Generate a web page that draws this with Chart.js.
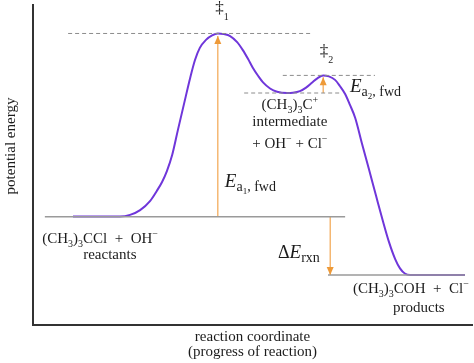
<!DOCTYPE html>
<html>
<head>
<meta charset="utf-8">
<script src="https://cdn.jsdelivr.net/npm/chart.js@4.4.0/dist/chart.umd.min.js"></script>
<style>
  html, body { margin: 0; padding: 0; background: #fff; }
</style>
</head>
<body>
<canvas id="energy-chart" width="474" height="363"></canvas>
<script>
// Energy profile (x: reaction coordinate 0-100, y: potential energy 0-100)
const pathX = [9.1, 19.8, 22.1, 24.4, 26.7, 28.2, 29.4, 30.5, 31.7, 33.0,
               34.4, 35.8, 36.9, 38.0, 39.4, 40.8, 42.1, 43.5, 44.9, 46.5,
               47.8, 49.0, 50.1, 51.3, 52.4, 54.0, 55.6, 57.9, 59.2, 60.8,
               62.2, 63.6, 64.7, 66.1, 67.4, 68.8, 69.9, 71.1, 72.2, 73.4,
               74.9, 76.5, 78.1, 79.7, 81.1, 82.5, 83.6, 84.7, 85.9, 98.4];
const pathY = [33.9, 33.9, 34.4, 35.9, 38.8, 41.9, 44.7, 48.1, 53.1, 60.9,
               69.1, 77.2, 82.8, 86.6, 89.1, 90.5, 91.1, 90.9, 90.3, 88.4,
               85.9, 83.1, 80.3, 77.8, 75.8, 73.9, 72.9, 72.5, 72.6, 73.1,
               74.2, 75.8, 77.0, 78.0, 77.7, 76.6, 74.7, 72.2, 68.8, 64.7,
               56.9, 48.8, 40.6, 32.5, 25.9, 20.6, 17.7, 16.1, 15.6, 15.6];

// energy levels
const reactantE = 33.8;
const productE = 15.6;
const ts1E = 91.1;
const intermediateE = 72.5;
const ts2E = 78.0;

// horizontal extent of the level lines
const reactantSpan = [2.7, 71.1];
const productSpan = [67.2, 98.4];
const ts1Span = [8.0, 63.6];
const ts2Span = [56.9, 77.9];
const intermediateSpan = [48.1, 69.9];

// arrows: x position, from energy, to energy
const ea1Arrow = [42.1, 33.8, 90.3];
const ea2Arrow = [66.1, 72.5, 77.4];
const rxnArrow = [67.7, 33.8, 15.6];

const serif = "'Liberation Serif', 'Times New Roman', serif";
const purple = "#6f36da";
const orange = "#f2a650";
const ink = "#1c1c1c";

// run styles for the rich text labels
const runStyles = {
  n:   { size: 15, dy: 0 },
  sub: { size: 10, dy: 4 },
  sup: { size: 10, dy: -6 },
  E:   { size: 19, dy: 0, italic: true },
  Es:  { size: 14, dy: 4 },
  Ess: { size: 9, dy: 7 },
  D:   { size: 18, dy: 0 },
  dg:  { size: 17, dy: 0 },
  ds:  { size: 10, dy: 7 }
};

// text notes placed in data units (left or centre, baseline)
const notes = [
  { x: 41.5, y: 97.5, align: "left", runs: [["‡", "dg"], ["1", "ds"]] },
  { x: 65.3, y: 84.1, align: "left", runs: [["‡", "dg"], ["2", "ds"]] },
  { x: 43.7, y: 43.1, align: "left", runs: [["E", "E"], ["a", "Es"], ["1", "Ess"], [", fwd", "Es"]] },
  { x: 72.2, y: 72.8, align: "left", runs: [["E", "E"], ["a", "Es"], ["2", "Ess"], [", fwd", "Es"]] },
  { x: 55.8, y: 20.9, align: "left", runs: [["Δ", "D"], ["E", "E"], ["rxn", "Es"]] },
  { x: 58.5, y: 67.4, align: "center", runs: [["(CH", "n"], ["3", "sub"], [")", "n"], ["3", "sub"], ["C", "n"], ["+", "sup"]] },
  { x: 58.5, y: 62.2, align: "center", runs: [["intermediate", "n"]] },
  { x: 58.5, y: 55.3, align: "center", runs: [["+ OH", "n"], ["−", "sup"], [" + Cl", "n"], ["−", "sup"]] },
  { x: 2.1, y: 25.6, align: "left", runs: [["(CH", "n"], ["3", "sub"], [")", "n"], ["3", "sub"], ["CCl  +  OH", "n"], ["−", "sup"]] },
  { x: 17.5, y: 20.6, align: "center", runs: [["reactants", "n"]] },
  { x: 72.9, y: 10.0, align: "left", runs: [["(CH", "n"], ["3", "sub"], [")", "n"], ["3", "sub"], ["COH  +  Cl", "n"], ["−", "sup"]] },
  { x: 87.9, y: 4.0, align: "center", runs: [["products", "n"]] }
];

const pts = (xs, ys) => xs.map((x, i) => ({ x, y: ys[i] }));
const flat = (span, e) => span.map(x => ({ x, y: e }));
const vertical = a => [{ x: a[0], y: a[1] }, { x: a[0], y: a[2] }];

function runFont(st) {
  return (st.italic ? "italic " : "") + st.size + "px " + serif;
}

// draws text notes and the y-axis title
const notesPlugin = {
  id: "notes",
  afterDatasetsDraw(chart) {
    const ctx = chart.ctx;
    const sx = chart.scales.x;
    const sy = chart.scales.y;
    ctx.save();
    ctx.fillStyle = ink;
    ctx.textBaseline = "alphabetic";
    ctx.textAlign = "left";
    notes.forEach(n => {
      let width = 0;
      n.runs.forEach(([t, s]) => {
        ctx.font = runFont(runStyles[s]);
        width += ctx.measureText(t).width;
      });
      let px = sx.getPixelForValue(n.x);
      const py = sy.getPixelForValue(n.y);
      if (n.align === "center") px -= width / 2;
      n.runs.forEach(([t, s]) => {
        const st = runStyles[s];
        ctx.font = runFont(st);
        ctx.fillText(t, px, py + st.dy);
        px += ctx.measureText(t).width;
      });
    });

    // y-axis title
    const area = chart.chartArea;
    ctx.translate(area.left - 22, 146);
    ctx.rotate(-Math.PI / 2);
    ctx.font = "15px " + serif;
    ctx.textAlign = "center";
    ctx.textBaseline = "middle";
    ctx.fillText("potential energy", 0, 0);
    ctx.restore();
  }
};

// filled arrow heads at the last point of arrow datasets
const arrowPlugin = {
  id: "arrowHeads",
  afterDatasetsDraw(chart) {
    const ctx = chart.ctx;
    chart.data.datasets.forEach((ds, i) => {
      if (!ds.arrowHead) return;
      const pts = chart.getDatasetMeta(i).data;
      const a = pts[pts.length - 2];
      const b = pts[pts.length - 1];
      const ang = Math.atan2(b.y - a.y, b.x - a.x);
      const len = 8, half = 3.5;
      ctx.save();
      ctx.translate(b.x, b.y);
      ctx.rotate(ang);
      ctx.beginPath();
      ctx.moveTo(0, 0);
      ctx.lineTo(-len, -half);
      ctx.lineTo(-len, half);
      ctx.closePath();
      ctx.fillStyle = "#ee9a38";
      ctx.fill();
      ctx.restore();
    });
  }
};

document.addEventListener("DOMContentLoaded", () => {
  const canvas = document.getElementById("energy-chart");

  const levelLine = (data) => ({ data, borderColor: "#9a9a9a", borderWidth: 1.5, pointRadius: 0 });
  const dashLine = (data) => ({ data, borderColor: "#8c8c8c", borderWidth: 1, borderDash: [4, 3], pointRadius: 0 });
  const arrowLine = (data) => ({ data, borderColor: orange, borderWidth: 1.2, pointRadius: 0, arrowHead: true });

  new Chart(canvas, {
    type: "line",
    data: {
      datasets: [
        levelLine(flat(reactantSpan, reactantE)),
        levelLine(flat(productSpan, productE)),
        dashLine(flat(ts1Span, ts1E)),
        dashLine(flat(ts2Span, ts2E)),
        dashLine(flat(intermediateSpan, intermediateE)),
        arrowLine(vertical(ea1Arrow)),
        arrowLine(vertical(ea2Arrow)),
        arrowLine(vertical(rxnArrow)),
        {
          data: pts(pathX, pathY),
          borderColor: purple,
          borderWidth: 2,
          pointRadius: 0,
          cubicInterpolationMode: "monotone"
        }
      ]
    },
    options: {
      responsive: false,
      animation: false,
      layout: { padding: { left: 33, top: 5, right: 2, bottom: 0 } },
      plugins: {
        legend: { display: false },
        tooltip: { enabled: false }
      },
      scales: {
        x: {
          type: "linear",
          min: 0,
          max: 100,
          grid: { display: false, drawTicks: false },
          ticks: { display: false },
          border: { display: true, color: "#333", width: 2 },
          title: {
            display: true,
            text: ["reaction coordinate", "(progress of reaction)"],
            color: ink,
            font: { family: serif, size: 15, lineHeight: 1 },
            padding: { top: 4.5, bottom: 3.5 }
          }
        },
        y: {
          type: "linear",
          min: 0,
          max: 100,
          grid: { display: false, drawTicks: false },
          ticks: { display: false },
          border: { display: true, color: "#333", width: 2 }
        }
      }
    },
    plugins: [arrowPlugin, notesPlugin]
  });
});
</script>
</body>
</html>
